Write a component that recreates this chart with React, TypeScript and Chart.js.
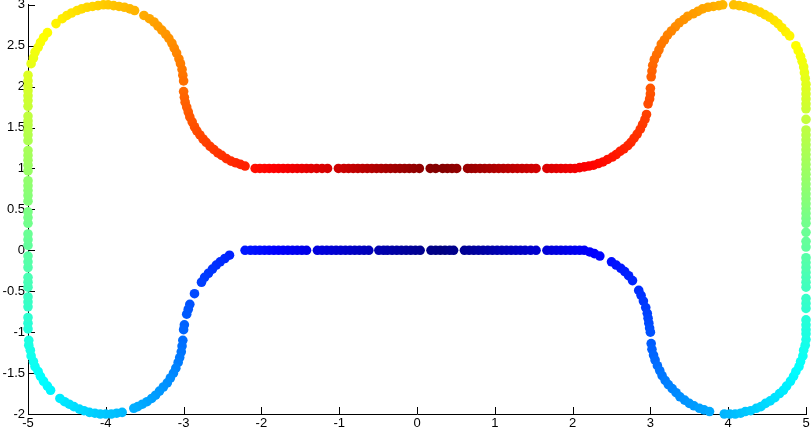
import React, { useEffect, useRef } from "react";
import { Chart, registerables } from "chart.js";

Chart.register(...registerables);

// Each point: [x, y, colour value (0..1 on the jet colormap)]
type P = [number, number, number];

const xTickValues = [-5, -4, -3, -2, -1, 0, 1, 2, 3, 4, 5];
const xTickLabels = ["-5", "-4", "-3", "-2", "-1", "0", "1", "2", "3", "4", "5"];
const yTickValues = [-2, -1.5, -1, -0.5, 0, 0.5, 1, 1.5, 2, 2.5, 3];
const yTickLabels = ["-2", "-1.5", "-1", "-0.5", "0", "0.5", "1", "1.5", "2", "2.5", "3"];

const bottomRight: P[] = [
  [0.30, 0, 0.000], [0.36, 0, 0.004], [0.42, 0, 0.008], [0.47, 0, 0.011],
  [0.61, 0, 0.019], [0.67, 0, 0.023], [0.73, 0, 0.027], [0.79, 0, 0.031], [0.85, 0, 0.035],
  [0.91, 0, 0.038], [0.97, 0, 0.042], [1.03, 0, 0.046], [1.09, 0, 0.050], [1.15, 0, 0.053],
  [1.21, 0, 0.057], [1.27, 0, 0.061], [1.33, 0, 0.065], [1.39, 0, 0.069], [1.46, 0, 0.073],
  [1.53, 0, 0.077], [1.67, 0, 0.086], [1.73, 0, 0.090], [1.79, 0, 0.094], [1.85, 0, 0.097],
  [1.91, 0, 0.101], [1.97, 0, 0.105], [2.03, 0, 0.109], [2.09, 0, 0.113], [2.15, 0, 0.116],
];

const bendLowerRight: P[] = [
  [2.22, -0.02, 0.121], [2.28, -0.04, 0.125], [2.35, -0.07, 0.130],
  [2.50, -0.14, 0.140], [2.56, -0.18, 0.144], [2.62, -0.22, 0.148], [2.67, -0.26, 0.152],
  [2.72, -0.31, 0.156], [2.77, -0.37, 0.161],
  [2.85, -0.49, 0.170], [2.88, -0.55, 0.174], [2.91, -0.62, 0.179], [2.94, -0.70, 0.184],
  [2.96, -0.77, 0.189], [2.97, -0.83, 0.193], [2.98, -0.89, 0.197], [2.99, -0.95, 0.201],
  [3.00, -1.00, 0.204],
];

const loopLowerRight: P[] = [
  [3.01, -1.14, 0.215], [3.02, -1.21, 0.219], [3.04, -1.28, 0.224], [3.06, -1.34, 0.228],
  [3.09, -1.41, 0.232], [3.12, -1.47, 0.237], [3.15, -1.53, 0.241], [3.19, -1.59, 0.246],
  [3.23, -1.64, 0.250], [3.28, -1.69, 0.254], [3.33, -1.74, 0.259], [3.38, -1.79, 0.263],
  [3.44, -1.83, 0.268], [3.50, -1.87, 0.272], [3.56, -1.90, 0.276], [3.63, -1.93, 0.281],
  [3.69, -1.95, 0.285], [3.76, -1.97, 0.290],
  [3.95, -2.00, 0.302], [4.02, -2.00, 0.306], [4.09, -2.00, 0.311], [4.16, -1.99, 0.315],
  [4.22, -1.97, 0.319], [4.29, -1.96, 0.324], [4.36, -1.93, 0.328], [4.42, -1.91, 0.333],
  [4.48, -1.87, 0.337], [4.54, -1.84, 0.341], [4.60, -1.80, 0.346], [4.66, -1.75, 0.350],
  [4.71, -1.71, 0.355], [4.75, -1.66, 0.359], [4.80, -1.60, 0.363], [4.84, -1.54, 0.368],
  [4.87, -1.48, 0.372], [4.91, -1.42, 0.377], [4.93, -1.36, 0.381], [4.96, -1.29, 0.385],
  [4.97, -1.22, 0.390], [4.99, -1.16, 0.394], [5.00, -1.09, 0.399], [5.00, -1.02, 0.403],
];

const sideRight: P[] = [
  [5, -0.97, 0.405], [5, -0.91, 0.409], [5, -0.85, 0.412],
  [5, -0.71, 0.421], [5, -0.65, 0.425], [5, -0.59, 0.429],
  [5, -0.45, 0.438], [5, -0.39, 0.441], [5, -0.33, 0.445], [5, -0.27, 0.449],
  [5, -0.21, 0.453], [5, -0.15, 0.456], [5, -0.09, 0.460],
  [5, 0.04, 0.469], [5, 0.11, 0.473], [5, 0.22, 0.480],
  [5, 0.33, 0.487], [5, 0.39, 0.490], [5, 0.45, 0.494], [5, 0.51, 0.498], [5, 0.57, 0.502],
  [5, 0.63, 0.506], [5, 0.69, 0.509], [5, 0.75, 0.513], [5, 0.81, 0.517], [5, 0.87, 0.521],
  [5, 0.93, 0.525], [5, 0.99, 0.528], [5, 1.05, 0.532], [5, 1.11, 0.536], [5, 1.17, 0.540],
  [5, 1.23, 0.544], [5, 1.29, 0.547], [5, 1.35, 0.551], [5, 1.41, 0.555], [5, 1.47, 0.559],
  [5, 1.60, 0.567],
  [5, 1.73, 0.575], [5, 1.79, 0.579], [5, 1.85, 0.583], [5, 1.91, 0.587], [5, 1.97, 0.591],
];

const loopUpperRight: P[] = [
  [5.00, 2.03, 0.594], [4.99, 2.10, 0.599], [4.98, 2.17, 0.603], [4.97, 2.24, 0.607],
  [4.95, 2.31, 0.612], [4.93, 2.37, 0.616], [4.90, 2.44, 0.621], [4.87, 2.50, 0.625],
  [4.79, 2.62, 0.634], [4.74, 2.67, 0.638], [4.69, 2.72, 0.643], [4.64, 2.77, 0.647],
  [4.59, 2.81, 0.651], [4.53, 2.85, 0.656], [4.47, 2.88, 0.660], [4.41, 2.91, 0.665],
  [4.34, 2.94, 0.669], [4.28, 2.96, 0.673], [4.21, 2.98, 0.678], [4.14, 2.99, 0.682],
  [4.07, 3.00, 0.687],
  [3.93, 3.00, 0.695], [3.88, 2.99, 0.699], [3.81, 2.98, 0.703], [3.74, 2.97, 0.708],
  [3.67, 2.95, 0.712], [3.61, 2.92, 0.716], [3.55, 2.89, 0.721], [3.48, 2.86, 0.725],
  [3.43, 2.82, 0.730], [3.37, 2.78, 0.734], [3.32, 2.73, 0.738], [3.27, 2.68, 0.743],
  [3.22, 2.63, 0.747], [3.18, 2.57, 0.751], [3.14, 2.52, 0.756], [3.11, 2.45, 0.760],
  [3.08, 2.39, 0.765], [3.05, 2.33, 0.769], [3.03, 2.26, 0.773], [3.02, 2.19, 0.778],
  [3.01, 2.12, 0.782],
];

const bendUpperRight: P[] = [
  [3.00, 1.98, 0.790], [3.00, 1.91, 0.794], [2.99, 1.85, 0.798], [2.97, 1.79, 0.802],
  [2.95, 1.66, 0.810], [2.93, 1.60, 0.814], [2.90, 1.54, 0.818], [2.87, 1.48, 0.822],
  [2.83, 1.42, 0.826], [2.79, 1.37, 0.830], [2.75, 1.32, 0.834], [2.71, 1.28, 0.838],
  [2.66, 1.24, 0.842], [2.61, 1.21, 0.846], [2.56, 1.17, 0.850], [2.51, 1.14, 0.854],
  [2.45, 1.11, 0.858], [2.39, 1.08, 0.862], [2.33, 1.06, 0.866], [2.27, 1.04, 0.870],
  [2.21, 1.03, 0.874], [2.15, 1.02, 0.878], [2.09, 1.01, 0.882],
];

const topRight: P[] = [
  [2.03, 1, 0.887], [1.97, 1, 0.891], [1.91, 1, 0.894], [1.85, 1, 0.898], [1.79, 1, 0.902],
  [1.73, 1, 0.906], [1.67, 1, 0.909],
  [1.53, 1, 0.918], [1.47, 1, 0.922], [1.41, 1, 0.926], [1.35, 1, 0.930], [1.29, 1, 0.933],
  [1.23, 1, 0.937], [1.17, 1, 0.941], [1.11, 1, 0.945], [1.05, 1, 0.948], [0.99, 1, 0.952],
  [0.93, 1, 0.956], [0.87, 1, 0.960], [0.81, 1, 0.964], [0.75, 1, 0.967], [0.70, 1, 0.970],
  [0.65, 1, 0.973],
  [0.51, 1, 0.982], [0.45, 1, 0.986], [0.39, 1, 0.990], [0.33, 1, 0.994],
];

const bottomLeft: P[] = [
  [0.24, 0, 0.004], [0.18, 0, 0.007],
  [0.04, 0, 0.015], [-0.02, 0, 0.019], [-0.08, 0, 0.022], [-0.14, 0, 0.026], [-0.20, 0, 0.029],
  [-0.26, 0, 0.033], [-0.32, 0, 0.036], [-0.38, 0, 0.040], [-0.43, 0, 0.043], [-0.49, 0, 0.046],
  [-0.62, 0, 0.054], [-0.68, 0, 0.057], [-0.74, 0, 0.061], [-0.80, 0, 0.064], [-0.86, 0, 0.068],
  [-0.92, 0, 0.071], [-0.98, 0, 0.075], [-1.04, 0, 0.078], [-1.10, 0, 0.082], [-1.16, 0, 0.085],
  [-1.22, 0, 0.089], [-1.28, 0, 0.092],
  [-1.42, 0, 0.101], [-1.48, 0, 0.104], [-1.54, 0, 0.108], [-1.60, 0, 0.111], [-1.66, 0, 0.115],
  [-1.72, 0, 0.118], [-1.78, 0, 0.122], [-1.84, 0, 0.125], [-1.90, 0, 0.129], [-1.96, 0, 0.132],
  [-2.02, 0, 0.136], [-2.08, 0, 0.139], [-2.14, 0, 0.143], [-2.21, 0, 0.147],
];

const bendLowerLeft: P[] = [
  [-2.41, -0.06, 0.158], [-2.47, -0.10, 0.163], [-2.53, -0.14, 0.167], [-2.58, -0.18, 0.171],
  [-2.63, -0.23, 0.175], [-2.68, -0.28, 0.179], [-2.73, -0.33, 0.183], [-2.77, -0.39, 0.187],
  [-2.86, -0.53, 0.197],
  [-2.92, -0.66, 0.205], [-2.94, -0.72, 0.209], [-2.96, -0.78, 0.213],
  [-2.99, -0.91, 0.220], [-3.00, -0.97, 0.224],
];

const loopLowerLeft: P[] = [
  [-3.01, -1.10, 0.232], [-3.02, -1.17, 0.236], [-3.03, -1.24, 0.240], [-3.05, -1.31, 0.244],
  [-3.07, -1.37, 0.248], [-3.10, -1.44, 0.253], [-3.13, -1.50, 0.257], [-3.17, -1.56, 0.261],
  [-3.21, -1.62, 0.265], [-3.26, -1.67, 0.269], [-3.31, -1.72, 0.273], [-3.36, -1.77, 0.277],
  [-3.41, -1.81, 0.281], [-3.47, -1.85, 0.285], [-3.53, -1.88, 0.289], [-3.59, -1.91, 0.293],
  [-3.64, -1.93, 0.296],
  [-3.79, -1.98, 0.306], [-3.86, -1.99, 0.310], [-3.93, -2.00, 0.314], [-4.00, -2.00, 0.318],
  [-4.07, -2.00, 0.322], [-4.14, -1.99, 0.326], [-4.21, -1.98, 0.330], [-4.28, -1.96, 0.334],
  [-4.34, -1.94, 0.338], [-4.41, -1.91, 0.342], [-4.47, -1.88, 0.346], [-4.53, -1.85, 0.350],
  [-4.59, -1.81, 0.355],
  [-4.71, -1.71, 0.364], [-4.75, -1.66, 0.368], [-4.80, -1.60, 0.372], [-4.84, -1.54, 0.376],
  [-4.87, -1.48, 0.380], [-4.91, -1.42, 0.384], [-4.93, -1.36, 0.388], [-4.96, -1.29, 0.392],
  [-4.97, -1.22, 0.396], [-4.99, -1.16, 0.400], [-4.99, -1.10, 0.403],
];

const sideLeft: P[] = [
  [-5, -0.96, 0.411], [-5, -0.89, 0.415], [-5, -0.82, 0.420],
  [-5, -0.69, 0.428], [-5, -0.63, 0.431], [-5, -0.57, 0.434],
  [-5, -0.45, 0.442], [-5, -0.39, 0.445], [-5, -0.33, 0.448],
  [-5, -0.21, 0.455], [-5, -0.14, 0.459], [-5, -0.07, 0.463],
  [-5, 0.06, 0.471], [-5, 0.13, 0.475], [-5, 0.20, 0.479],
  [-5, 0.33, 0.487], [-5, 0.40, 0.491], [-5, 0.47, 0.495],
  [-5, 0.60, 0.503], [-5, 0.67, 0.507], [-5, 0.73, 0.510], [-5, 0.79, 0.514], [-5, 0.85, 0.517],
  [-5, 0.97, 0.525], [-5, 1.04, 0.528], [-5, 1.10, 0.532], [-5, 1.16, 0.535], [-5, 1.22, 0.538],
  [-5, 1.34, 0.546], [-5, 1.41, 0.550], [-5, 1.47, 0.553], [-5, 1.53, 0.557], [-5, 1.58, 0.560],
  [-5, 1.64, 0.563],
  [-5, 1.76, 0.571], [-5, 1.83, 0.575], [-5, 1.89, 0.578], [-5, 1.95, 0.582], [-5, 2.01, 0.585],
  [-5, 2.07, 0.589], [-5, 2.14, 0.592],
];

const loopUpperLeft: P[] = [
  [-4.96, 2.28, 0.602], [-4.93, 2.35, 0.606], [-4.91, 2.42, 0.611], [-4.87, 2.48, 0.615],
  [-4.84, 2.54, 0.619], [-4.80, 2.60, 0.623], [-4.75, 2.66, 0.627],
  [-4.64, 2.77, 0.637], [-4.56, 2.83, 0.642], [-4.50, 2.87, 0.646], [-4.44, 2.90, 0.650],
  [-4.37, 2.93, 0.654], [-4.31, 2.95, 0.658], [-4.24, 2.97, 0.663], [-4.17, 2.98, 0.667],
  [-4.10, 2.99, 0.671], [-4.03, 3.00, 0.675], [-3.97, 3.00, 0.679], [-3.90, 2.99, 0.683],
  [-3.83, 2.98, 0.687], [-3.76, 2.97, 0.691], [-3.69, 2.95, 0.695], [-3.63, 2.93, 0.699],
  [-3.51, 2.87, 0.707], [-3.44, 2.83, 0.711], [-3.38, 2.79, 0.716], [-3.33, 2.74, 0.720],
  [-3.28, 2.69, 0.724], [-3.23, 2.64, 0.728], [-3.19, 2.59, 0.732], [-3.15, 2.53, 0.736],
  [-3.12, 2.47, 0.740], [-3.09, 2.41, 0.744], [-3.06, 2.34, 0.748], [-3.04, 2.28, 0.752],
  [-3.02, 2.21, 0.756], [-3.01, 2.14, 0.760], [-3.00, 2.07, 0.765],
];

const bendUpperLeft: P[] = [
  [-3.00, 1.94, 0.772], [-2.99, 1.87, 0.776], [-2.98, 1.81, 0.779], [-2.96, 1.75, 0.783],
  [-2.94, 1.69, 0.786], [-2.92, 1.63, 0.790], [-2.89, 1.57, 0.793], [-2.86, 1.51, 0.797],
  [-2.83, 1.46, 0.800], [-2.79, 1.41, 0.804], [-2.75, 1.36, 0.808], [-2.71, 1.32, 0.811],
  [-2.66, 1.27, 0.815], [-2.61, 1.23, 0.818], [-2.56, 1.19, 0.822], [-2.51, 1.16, 0.825],
  [-2.45, 1.12, 0.829], [-2.39, 1.09, 0.833], [-2.33, 1.07, 0.836], [-2.27, 1.05, 0.840],
  [-2.21, 1.03, 0.843],
];

const topLeft: P[] = [
  [-2.08, 1, 0.861], [-2.02, 1, 0.864], [-1.96, 1, 0.868], [-1.90, 1, 0.871], [-1.84, 1, 0.875],
  [-1.78, 1, 0.878], [-1.72, 1, 0.882], [-1.66, 1, 0.885], [-1.60, 1, 0.889], [-1.54, 1, 0.892],
  [-1.48, 1, 0.896], [-1.42, 1, 0.899], [-1.36, 1, 0.903], [-1.29, 1, 0.907], [-1.22, 1, 0.911],
  [-1.15, 1, 0.915],
  [-1.01, 1, 0.923], [-0.94, 1, 0.927], [-0.88, 1, 0.931], [-0.82, 1, 0.934], [-0.76, 1, 0.938],
  [-0.70, 1, 0.941], [-0.64, 1, 0.945], [-0.58, 1, 0.948], [-0.52, 1, 0.952], [-0.46, 1, 0.955],
  [-0.40, 1, 0.959], [-0.34, 1, 0.962], [-0.28, 1, 0.966], [-0.22, 1, 0.969], [-0.16, 1, 0.973],
  [-0.10, 1, 0.976], [-0.04, 1, 0.980], [0.03, 1, 0.984],
  [0.17, 1, 0.992], [0.24, 1, 0.996],
];

const segments: P[][] = [
  bottomRight, bendLowerRight, loopLowerRight, sideRight, loopUpperRight, bendUpperRight, topRight,
  bottomLeft, bendLowerLeft, loopLowerLeft, sideLeft, loopUpperLeft, bendUpperLeft, topLeft,
];

function jet(c: number): string {
  const cl = (v: number) => Math.max(0, Math.min(1, v));
  const r = cl(1.5 - Math.abs(4 * c - 3));
  const g = cl(1.5 - Math.abs(4 * c - 2));
  const b = cl(1.5 - Math.abs(4 * c - 1));
  return `rgb(${Math.round(r * 255)},${Math.round(g * 255)},${Math.round(b * 255)})`;
}

const inwardTicks = {
  id: "inwardTicks",
  beforeDatasetsDraw(chart: any) {
    const { ctx, chartArea, scales } = chart;
    ctx.save();
    ctx.strokeStyle = "#000";
    ctx.lineWidth = 1;
    ctx.beginPath();
    for (const v of xTickValues) {
      const px = Math.round(scales.x.getPixelForValue(v)) + 0.5;
      ctx.moveTo(px, chartArea.bottom);
      ctx.lineTo(px, chartArea.bottom - 7);
    }
    for (const v of yTickValues) {
      const py = Math.round(scales.y.getPixelForValue(v)) + 0.5;
      ctx.moveTo(chartArea.left, py);
      ctx.lineTo(chartArea.left + 7, py);
    }
    ctx.stroke();
    ctx.restore();
  },
};

export default function App() {
  const ref = useRef<HTMLCanvasElement>(null);
  useEffect(() => {
    const points = segments.flat();
    const font = { family: '"Liberation Sans", Arial, sans-serif', size: 13 };
    const chart = new Chart(ref.current as HTMLCanvasElement, {
      type: "scatter",
      data: {
        datasets: [
          {
            data: points.map((p) => ({ x: p[0], y: p[1] })),
            backgroundColor: points.map((p) => jet(p[2])),
            borderWidth: 0,
            pointRadius: 4.8,
            pointHoverRadius: 4.8,
            pointBorderWidth: 0,
            clip: false,
          } as any,
        ],
      },
      options: {
        animation: false,
        responsive: false,
        devicePixelRatio: 1,
        events: [],
        layout: { padding: { top: 4, right: 6, bottom: 0, left: 0 } },
        plugins: { legend: { display: false }, tooltip: { enabled: false } },
        scales: {
          x: {
            type: "linear",
            min: -5,
            max: 5,
            afterBuildTicks: (s: any) => {
              s.ticks = xTickValues.map((v) => ({ value: v }));
            },
            afterFit: (s: any) => {
              s.height = 15;
              s.paddingLeft = 0;
              s.paddingRight = 0;
            },
            grid: { display: false, drawTicks: false },
            border: { display: true, color: "#000", width: 1 },
            ticks: {
              font,
              color: "#000",
              padding: 2,
              maxRotation: 0,
              autoSkip: false,
              callback: (_v: any, i: number) => xTickLabels[i],
            },
          },
          y: {
            type: "linear",
            min: -2,
            max: 3,
            afterBuildTicks: (s: any) => {
              s.ticks = yTickValues.map((v) => ({ value: v }));
            },
            afterFit: (s: any) => {
              s.width = 28;
              s.paddingTop = 0;
              s.paddingBottom = 0;
            },
            grid: { display: false, drawTicks: false },
            border: { display: true, color: "#000", width: 1 },
            ticks: {
              font,
              color: "#000",
              padding: 3,
              autoSkip: false,
              callback: (_v: any, i: number) => yTickLabels[i],
            },
          },
        },
      },
      plugins: [inwardTicks],
    });
    return () => chart.destroy();
  }, []);
  return (
    <div style={{ position: "absolute", left: 0, top: 0, width: 812, height: 429, background: "#fff" }}>
      <canvas ref={ref} width={812} height={429} style={{ display: "block", width: 812, height: 429 }} />
    </div>
  );
}
